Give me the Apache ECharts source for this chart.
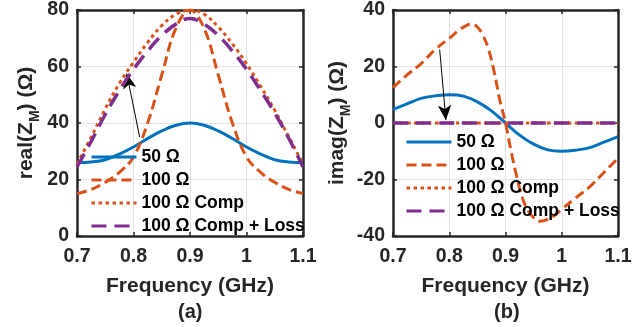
<!DOCTYPE html>
<html>
<head>
<meta charset="utf-8">
<script src="https://cdn.jsdelivr.net/npm/echarts@6/dist/echarts.min.js"></script>
<style>
  html, body { margin: 0; padding: 0; background: #fff; }
  #chart { width: 640px; height: 327px; }
</style>
</head>
<body>
<div id="chart"></div>
<script>
// (a) real part, sampled every 0.025 GHz
const freqA = [0.7, 0.725, 0.75, 0.775, 0.8, 0.825, 0.85, 0.875, 0.9, 0.925, 0.95, 0.975, 1.0, 1.025, 1.05, 1.075, 1.1]
const real50 = [26, 26.2, 27, 29, 31.5, 34.5, 37.2, 39.2, 40, 39.2, 37.2, 34.5, 31.5, 29, 27, 26.2, 26]
const real100 = [15, 16.5, 19, 22.5, 28, 40, 57, 73.5, 80, 73.5, 57, 40, 28, 22.5, 19, 16.5, 15]
const realComp = [25.5, 35, 45, 54, 61.5, 68.5, 74.5, 78.5, 80, 78.5, 74, 68, 61, 53, 44.5, 35, 25.5]
const realLoss = [24.5, 33.5, 43, 51.5, 59, 65.5, 71, 75, 77, 75, 71, 65.5, 59, 51.5, 43.5, 34.5, 24.5]

// (b) imaginary part
const freqB = [0.7, 0.725, 0.75, 0.775, 0.8, 0.825, 0.85, 0.875, 0.9, 0.925, 0.95, 0.975, 1.0, 1.025, 1.05, 1.075, 1.1]
const imag50 = [4.8, 6.8, 8.7, 9.6, 10, 9.5, 7.5, 4.3, 0, -4.3, -7.5, -9.5, -10, -9.6, -8.7, -6.8, -4.8]
const imagComp = [0, 0, 0, 0, 0, 0, 0, 0, 0, 0, 0, 0, 0, 0, 0, 0, 0]
const imagLoss = [0, 0, 0, 0, 0, 0, 0, 0, 0, 0, 0, 0, 0, 0, 0, 0, 0]
const freqB100 = [0.7, 0.725, 0.75, 0.775, 0.8, 0.815, 0.83, 0.84, 0.85, 0.86, 0.87, 0.88, 0.89, 0.9,
  0.91, 0.92, 0.93, 0.94, 0.95, 0.96, 0.97, 0.985, 1.0, 1.025, 1.05, 1.075, 1.1]
const imag100 = [12.5, 17, 21, 26, 30, 32.5, 34.5, 35, 34, 31, 26, 18, 8, 0,
  -10, -19, -26.5, -31, -33.5, -34.8, -34.5, -33, -30.5, -26.5, -22.5, -17.5, -12.5]

// arrows: [from, to]
const arrowA = [[0.811, 35], [0.788, 57.5]]
const arrowB = [[0.783, 26], [0.794, 1]]

const names = ['50 Ω', '100 Ω', '100 Ω Comp', '100 Ω Comp + Loss']
const xTicks = { min: 0.7, max: 1.1, interval: 0.1 }
const yTicksA = { min: 0, max: 80, interval: 20 }
const yTicksB = { min: -40, max: 40, interval: 20 }

const font = "'Liberation Sans', Arial, Helvetica, sans-serif"
const axisColor = '#262626'
const lineStyles = [
  { color: '#0072BD', width: 3, type: 'solid' },
  { color: '#D95319', width: 3, type: [10, 5] },
  { color: '#D95319', width: 3, type: [3.5, 3.5] },
  { color: '#7E2F8E', width: 3.5, type: [15, 8] },
]

const zip = (xs, ys) => xs.map((x, i) => [x, ys[i]])

function axis(gridIndex, ticks, position, main, extra) {
  return Object.assign({
    type: 'value',
    gridIndex,
    position,
    min: ticks.min,
    max: ticks.max,
    interval: ticks.interval,
    axisLine: { show: true, onZero: false, lineStyle: { color: axisColor, width: 2.5 } },
    axisTick: { show: true, inside: true, length: 4, lineStyle: { color: axisColor, width: 1.5 } },
    splitLine: { show: main, lineStyle: { color: '#e3e3e3', width: 1 } },
    axisLabel: {
      show: main,
      color: axisColor,
      fontFamily: font,
      fontWeight: 'bold',
      fontSize: 19.5,
      margin: position === 'bottom' ? 11 : 8,
      formatter: v => String(+v.toFixed(1)),
    },
  }, extra)
}

function nameStyle() {
  return {
    color: axisColor,
    fontFamily: font,
    fontWeight: 'bold',
    fontSize: 21,
    rich: {
      sub: { fontFamily: font, fontWeight: 'bold', fontSize: 14, color: axisColor, padding: [17, 0, 0, 0] },
    },
  }
}

function makeSeries(g, sets, arrow) {
  return sets.map((data, i) => {
    const s = {
      name: names[i],
      type: 'line',
      xAxisIndex: g * 2,
      yAxisIndex: g * 2,
      data,
      symbol: 'none',
      smooth: 0.4,
      lineStyle: lineStyles[i],
      itemStyle: { color: lineStyles[i].color },
      z: 2 + i,
    }
    if (i === 0) {
      s.markLine = {
        silent: true,
        symbol: ['none', 'arrow'],
        symbolSize: [10, 15],
        label: { show: false },
        lineStyle: { color: '#000', width: 1, type: 'solid' },
        data: [[{ coord: arrow[0] }, { coord: arrow[1] }]],
      }
    }
    return s
  })
}

const legendBase = {
  orient: 'vertical',
  itemWidth: 45,
  itemHeight: 14,
  itemGap: 5,
  padding: 0,
  selectedMode: false,
  data: names,
  itemStyle: { opacity: 0 },
  lineStyle: { width: 3 },
  textStyle: { fontFamily: font, fontWeight: 'bold', fontSize: 17.5, lineHeight: 18, color: '#000' },
}

const chart = echarts.init(document.getElementById('chart'), null, { renderer: 'canvas' })
chart.setOption({
  animation: false,
  backgroundColor: '#fff',
  grid: [
    { left: 77, top: 10, width: 226, height: 226 },
    { left: 393, top: 10, width: 225, height: 226 },
  ],
  xAxis: [
    axis(0, xTicks, 'bottom', true, {
      name: 'Frequency (GHz)', nameLocation: 'middle', nameGap: 40, nameTextStyle: nameStyle(),
    }),
    axis(0, xTicks, 'top', false),
    axis(1, xTicks, 'bottom', true, {
      name: 'Frequency (GHz)', nameLocation: 'middle', nameGap: 40, nameTextStyle: nameStyle(),
    }),
    axis(1, xTicks, 'top', false),
  ],
  yAxis: [
    axis(0, yTicksA, 'left', true, {
      name: 'real(Z{sub|M}) (Ω)', nameLocation: 'middle', nameGap: 35, nameTextStyle: nameStyle(),
    }),
    axis(0, yTicksA, 'right', false),
    axis(1, yTicksB, 'left', true, {
      name: 'imag(Z{sub|M}) (Ω)', nameLocation: 'middle', nameGap: 31, nameTextStyle: nameStyle(),
    }),
    axis(1, yTicksB, 'right', false),
  ],
  legend: [
    Object.assign({ left: 90, top: 148 }, legendBase),
    Object.assign({ left: 405, top: 133 }, legendBase),
  ],
  graphic: [
    { type: 'text', left: 178, top: 302, style: { text: '(a)', font: 'bold 20px ' + font, fill: axisColor } },
    { type: 'text', left: 494, top: 302, style: { text: '(b)', font: 'bold 20px ' + font, fill: axisColor } },
  ],
  series: [
    ...makeSeries(0, [zip(freqA, real50), zip(freqA, real100), zip(freqA, realComp), zip(freqA, realLoss)], arrowA),
    ...makeSeries(1, [zip(freqB, imag50), zip(freqB100, imag100), zip(freqB, imagComp), zip(freqB, imagLoss)], arrowB),
  ],
})
</script>
</body>
</html>
